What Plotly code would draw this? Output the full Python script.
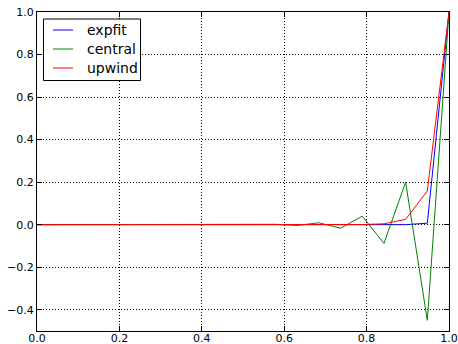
import plotly.graph_objects as go

x_vals = [i / 19 for i in range(20)]
expfit = [0.0] * 17 + [0.00005, 0.007, 1.0]
central = [0.0] * 10 + [-0.0008, 0.0017, -0.0037, 0.009, -0.017, 0.04, -0.088, 0.2, -0.45, 1.0]
upwind = [0.0] * 14 + [0.0001, 0.0007, 0.004, 0.025, 0.158, 1.0]

series = [("expfit", expfit, "#0000ff"), ("central", central, "#008000"), ("upwind", upwind, "#ff0000")]

fig = go.Figure()
for name, ys, col in series:
    fig.add_trace(go.Scatter(x=x_vals, y=ys, mode="lines", name=name,
                             line=dict(color=col, width=1), showlegend=False))

axis_common = dict(
    showline=True, linecolor="black", linewidth=1, mirror="allticks",
    ticks="inside", ticklen=5, tickcolor="black", tickwidth=1,
    showgrid=True, gridcolor="black", gridwidth=1, griddash="1px,2px",
    zeroline=False, tickfont=dict(family="DejaVu Sans", size=11, color="black"),
    tickformat=".1f", automargin=False,
)

fig.update_xaxes(range=[0, 1], dtick=0.2, tick0=0, ticklabelstandoff=-3, **axis_common)
fig.update_yaxes(range=[-0.5, 1.0], dtick=0.2, tick0=0, ticklabelstandoff=0, **axis_common)

# Legend drawn by hand (paper coordinates)
L = 37; R = 449; T = 12; B = 331
def px(v): return (v - L) / (R - L)
def py(v): return (B - v) / (B - T)

fig.add_shape(type="rect", xref="paper", yref="paper",
              x0=px(43.5), x1=px(140.5), y0=py(80.5), y1=py(19),
              line=dict(color="black", width=1), fillcolor="white", layer="above")
row_y = [30, 49, 68]
for (name, ys, col), ry in zip(series, row_y):
    fig.add_shape(type="line", xref="paper", yref="paper",
                  x0=px(53), x1=px(73), y0=py(ry), y1=py(ry),
                  line=dict(color=col, width=1), layer="above")
    fig.add_annotation(xref="paper", yref="paper", x=px(85), y=py(ry),
                       text=name, showarrow=False, xanchor="left", yanchor="middle",
                       font=dict(family="DejaVu Sans", size=14, color="black"))

fig.update_layout(
    width=458, height=344,
    margin=dict(l=L, r=458 - R, t=T, b=344 - B),
    paper_bgcolor="white", plot_bgcolor="white",
    font=dict(family="DejaVu Sans", size=11, color="black"),
    showlegend=False,
)

fig.write_html("out.html", config={"displayModeBar": False},
               post_script="document.body.style.margin='0';document.body.style.overflow='hidden';")
